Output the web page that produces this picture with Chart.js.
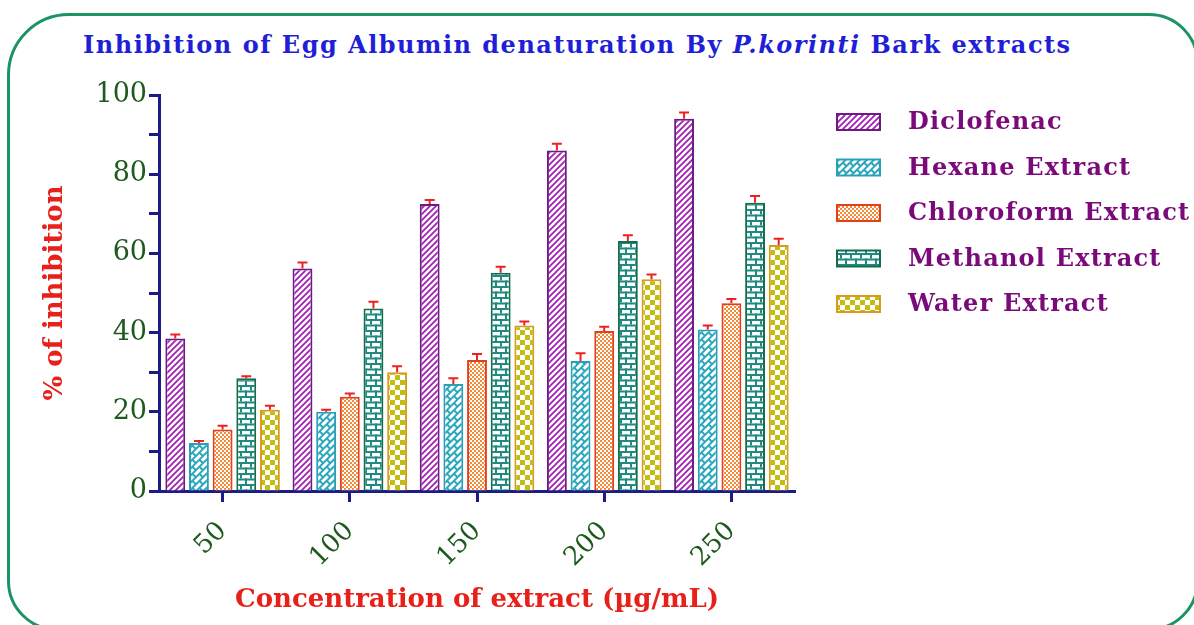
<!DOCTYPE html>
<html>
<head>
<meta charset="utf-8">
<script src="https://cdn.jsdelivr.net/npm/chart.js@4.4.0/dist/chart.umd.min.js"></script>
<style>
  body { margin: 0; width: 1194px; height: 625px; overflow: hidden; background: #fff; position: relative; }
  #frame { position: absolute; left: 7px; top: 13px; width: 1192px; height: 618px; border: 3px solid #1a9463; border-radius: 62px 50px 50px 50px; box-sizing: border-box; }
  #title { position: absolute; left: 83px; top: 30px; font-family: "DejaVu Serif"; font-weight: bold; font-size: 24px; letter-spacing: 1.5px; color: #1f1fd8; white-space: nowrap; }
  #wrap { position: absolute; left: 0; top: 0; width: 1194px; height: 625px; }
</style>
</head>
<body>
<div id="frame"></div>
<div id="title">Inhibition of Egg Albumin denaturation By <i>P.korinti</i> Bark extracts</div>
<div id="wrap"><canvas id="chart"></canvas></div>
<script>
// data (% inhibition, error = upper bar)
const concentrations = ['50', '100', '150', '200', '250'];
const seriesNames = ['Diclofenac', 'Hexane Extract', 'Chloroform Extract', 'Methanol Extract', 'Water Extract'];

const diclofenac = [38.5, 56.2, 72.5, 86.0, 94.0];
const diclofenacErr = [1.0, 1.5, 1.0, 1.7, 1.6];
const hexane = [12.1, 20.0, 27.0, 32.8, 40.8];
const hexaneErr = [0.5, 0.5, 1.5, 2.0, 1.0];
const chloroform = [15.5, 23.8, 33.1, 40.4, 47.4];
const chloroformErr = [1.0, 0.8, 1.5, 1.1, 1.1];
const methanol = [28.5, 46.1, 55.1, 63.1, 72.8];
const methanolErr = [0.5, 1.7, 1.5, 1.5, 1.7];
const water = [20.5, 30.0, 41.8, 53.5, 62.1];
const waterErr = [1.0, 1.5, 1.0, 1.2, 1.6];

const yTicks = [0, 20, 40, 60, 80, 100];

// fill patterns for the bars
function makePattern(kind) {
    const c = document.createElement('canvas');
    const g = c.getContext('2d');
    let rotate = 0;
    if (kind === 'stripe') {
        c.width = 6; c.height = 6;
        g.fillStyle = '#fff'; g.fillRect(0, 0, 6, 6);
        g.strokeStyle = '#a51fb6'; g.lineWidth = 1.8;
        g.beginPath();
        g.moveTo(-1, 7); g.lineTo(7, -1);
        g.moveTo(-1, 1); g.lineTo(1, -1);
        g.moveTo(5, 7); g.lineTo(7, 5);
        g.stroke();
    } else if (kind === 'diagbrick' || kind === 'brick') {
        const w = 10, h = kind === 'brick' ? 11 : 10;
        c.width = w; c.height = h;
        g.fillStyle = '#fff'; g.fillRect(0, 0, w, h);
        g.fillStyle = kind === 'brick' ? '#1f8a82' : '#2aa6bd';
        g.fillRect(0, 0, w, 2);
        g.fillRect(0, h / 2, w, 2);
        g.fillRect(0, 0, 2, h / 2);
        g.fillRect(w / 2, h / 2, 2, h / 2);
        if (kind === 'diagbrick') rotate = -45;
    } else if (kind === 'finecheck') {
        c.width = 4; c.height = 4;
        g.fillStyle = '#fff'; g.fillRect(0, 0, 4, 4);
        g.fillStyle = '#f28a3a';
        g.fillRect(0, 0, 2, 2); g.fillRect(2, 2, 2, 2);
    } else if (kind === 'check') {
        c.width = 10; c.height = 10;
        g.fillStyle = '#fff'; g.fillRect(0, 0, 10, 10);
        g.fillStyle = '#c2bd10';
        g.fillRect(0, 0, 5, 5); g.fillRect(5, 5, 5, 5);
    }
    const p = g.createPattern(c, 'repeat');
    if (rotate) p.setTransform(new DOMMatrix().rotateSelf(rotate));
    return p;
}

const fills = [makePattern('stripe'), makePattern('diagbrick'), makePattern('finecheck'), makePattern('brick'), makePattern('check')];
const borders = ['#6d1a85', '#2a9fb8', '#e0401a', '#136e4a', '#d79b1e'];
const values = [diclofenac, hexane, chloroform, methanol, water];
const errors = [diclofenacErr, hexaneErr, chloroformErr, methanolErr, waterErr];

const datasets = seriesNames.map(function(name, i) {
    return {
        label: name,
        data: values[i],
        errors: errors[i],
        backgroundColor: fills[i],
        borderColor: borders[i],
        borderWidth: 2,
        categoryPercentage: 0.93,
        barPercentage: 0.84
    };
});

// upper error bars in red
const errorBars = {
    id: 'errorBars',
    afterDatasetsDraw(chart) {
        const ctx = chart.ctx, yScale = chart.scales.y;
        ctx.save();
        ctx.strokeStyle = '#ee2020';
        ctx.lineWidth = 2;
        chart.data.datasets.forEach(function(ds, i) {
            chart.getDatasetMeta(i).data.forEach(function(bar, j) {
                const top = yScale.getPixelForValue(ds.data[j] + ds.errors[j]);
                ctx.beginPath();
                ctx.moveTo(bar.x, bar.y);
                ctx.lineTo(bar.x, top);
                ctx.moveTo(bar.x - 5, top);
                ctx.lineTo(bar.x + 5, top);
                ctx.stroke();
            });
        });
        ctx.restore();
    }
};

// legend on the right, boxes + purple labels
const sideLegend = {
    id: 'sideLegend',
    afterDraw(chart) {
        const ctx = chart.ctx;
        const x0 = chart.chartArea.right + 42;
        ctx.save();
        chart.data.datasets.forEach(function(ds, i) {
            const y = 122 + i * 45.5;
            ctx.fillStyle = ds.backgroundColor;
            ctx.fillRect(x0, y - 8, 43, 16);
            ctx.strokeStyle = ds.borderColor;
            ctx.lineWidth = 2;
            ctx.strokeRect(x0, y - 8, 43, 16);
            ctx.fillStyle = '#7a0a7a';
            ctx.font = 'bold 24px "DejaVu Serif"';
            ctx.letterSpacing = '1.2px';
            ctx.textBaseline = 'middle';
            ctx.fillText(ds.label, x0 + 71, y + 1);
        });
        ctx.restore();
    }
};

const navy = '#1c1c86';
const tickGreen = '#1e5a1e';

new Chart(document.getElementById('chart'), {
    type: 'bar',
    data: { labels: concentrations, datasets: datasets },
    plugins: [errorBars, sideLegend],
    options: {
        responsive: true,
        maintainAspectRatio: false,
        animation: false,
        layout: { padding: { left: 36, top: 95, right: 399, bottom: 0 } },
        plugins: { legend: { display: false }, tooltip: { enabled: false } },
        scales: {
            x: {
                afterFit(scale) { scale.height = 134; },
                grid: { offset: false, drawOnChartArea: false, tickLength: 11, tickWidth: 3, tickColor: navy },
                border: { color: navy, width: 3 },
                ticks: { color: tickGreen, font: { family: 'DejaVu Serif', size: 26 }, minRotation: 45, maxRotation: 45, padding: 14 },
                title: { display: true, text: 'Concentration of extract (µg/mL)', color: '#e8201a',
                         font: { family: 'DejaVu Serif', size: 26, weight: 'bold' }, padding: { top: 4, bottom: 9 } }
            },
            y: {
                min: 0, max: 100,
                afterFit(scale) { scale.width = 123; },
                grid: { drawOnChartArea: false, tickLength: 10, tickWidth: 3, tickColor: navy },
                border: { color: navy, width: 3 },
                ticks: {
                    stepSize: 10, autoSkip: false, padding: 2, color: tickGreen,
                    font: { family: 'DejaVu Serif', size: 27 },
                    callback: function(v) { return yTicks.includes(v) ? v : ''; }
                },
                title: { display: true, text: '% of inhibition', color: '#e8201a',
                         font: { family: 'DejaVu Serif', size: 26, weight: 'bold' } }
            }
        }
    }
});
</script>
</body>
</html>
